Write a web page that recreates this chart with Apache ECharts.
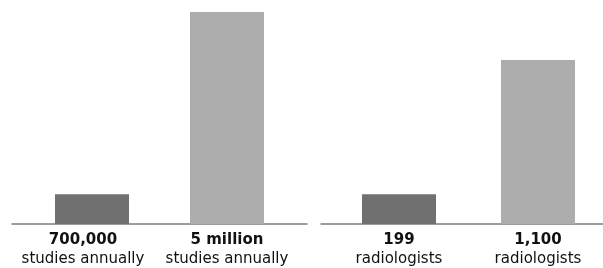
<!DOCTYPE html>
<html>
<head>
<meta charset="utf-8">
<script src="https://cdn.jsdelivr.net/npm/echarts@6/dist/echarts.min.js"></script>
<style>
  html, body { margin: 0; padding: 0; background: #fff; }
  #chart { width: 603px; height: 268px; }
</style>
</head>
<body>
<div id="chart"></div>
<script>
// studies per year
const studyFigures = ['700,000', '5 million'];
const studyUnits = ['studies annually', 'studies annually'];
const studyValues = [700000, 5000000];

// radiologists
const radFigures = ['199', '1,100'];
const radUnits = ['radiologists', 'radiologists'];
const radValues = [199, 1100];

const barColors = ['#707070', '#adadad'];

const chart = echarts.init(document.getElementById('chart'));

function cats(figures, units, shift) {
  return figures.map((f, i) => {
    let item = { value: '{b|' + f + '}\n{n|' + units[i] + '}' };
    if (shift && shift[i]) item.textStyle = { padding: [0, shift[i], 0, 0] };
    return item;
  });
}

function bars(values) {
  return values.map((v, i) => ({ value: v, itemStyle: { color: barColors[i] } }));
}

const labelStyle = {
  interval: 0,
  margin: 7,
  color: '#111',
  fontFamily: 'DejaVu Sans',
  rich: {
    b: { fontFamily: 'DejaVu Sans', fontWeight: 'bold', fontSize: 15, lineHeight: 19, color: '#111' },
    n: { fontFamily: 'DejaVu Sans', fontSize: 15, lineHeight: 19, color: '#111' }
  }
};

const baseLine = { show: true, lineStyle: { color: '#7d7d7d', width: 1.5 } };

let option = {
  animation: false,
  grid: [
    { left: 24.5, right: 308.5, top: 12, bottom: 44 },  // bars left
    { left: 12, right: 296, top: 12, bottom: 44 },      // baseline left
    { left: 329.5, right: -4.5, top: 12, bottom: 44 },  // bars right
    { left: 321, right: 0, top: 12, bottom: 44 }        // baseline right
  ].map(g => Object.assign(g, { outerBoundsMode: 'none', containLabel: false })),
  xAxis: [
    {
      gridIndex: 0, type: 'category',
      data: cats(studyFigures, studyUnits, [18, 0]),
      axisLine: { show: false }, axisTick: { show: false },
      axisLabel: labelStyle
    },
    {
      gridIndex: 1, type: 'value', min: 0, max: 1,
      axisLine: baseLine, axisTick: { show: false },
      axisLabel: { show: false }, splitLine: { show: false }
    },
    {
      gridIndex: 2, type: 'category',
      data: cats(radFigures, radUnits),
      axisLine: { show: false }, axisTick: { show: false },
      axisLabel: labelStyle
    },
    {
      gridIndex: 3, type: 'value', min: 0, max: 1,
      axisLine: baseLine, axisTick: { show: false },
      axisLabel: { show: false }, splitLine: { show: false }
    }
  ],
  yAxis: [0, 1, 2, 3].map(g => ({
    gridIndex: g, type: 'value', min: 0,
    max: g < 2 ? 5000000 : 1422,
    show: false, splitLine: { show: false }
  })),
  series: [
    {
      type: 'bar', xAxisIndex: 0, yAxisIndex: 0,
      barWidth: 74, data: bars(studyValues)
    },
    {
      type: 'bar', xAxisIndex: 2, yAxisIndex: 2,
      barWidth: 74, data: bars(radValues)
    }
  ]
};

chart.setOption(option);
</script>
</body>
</html>
